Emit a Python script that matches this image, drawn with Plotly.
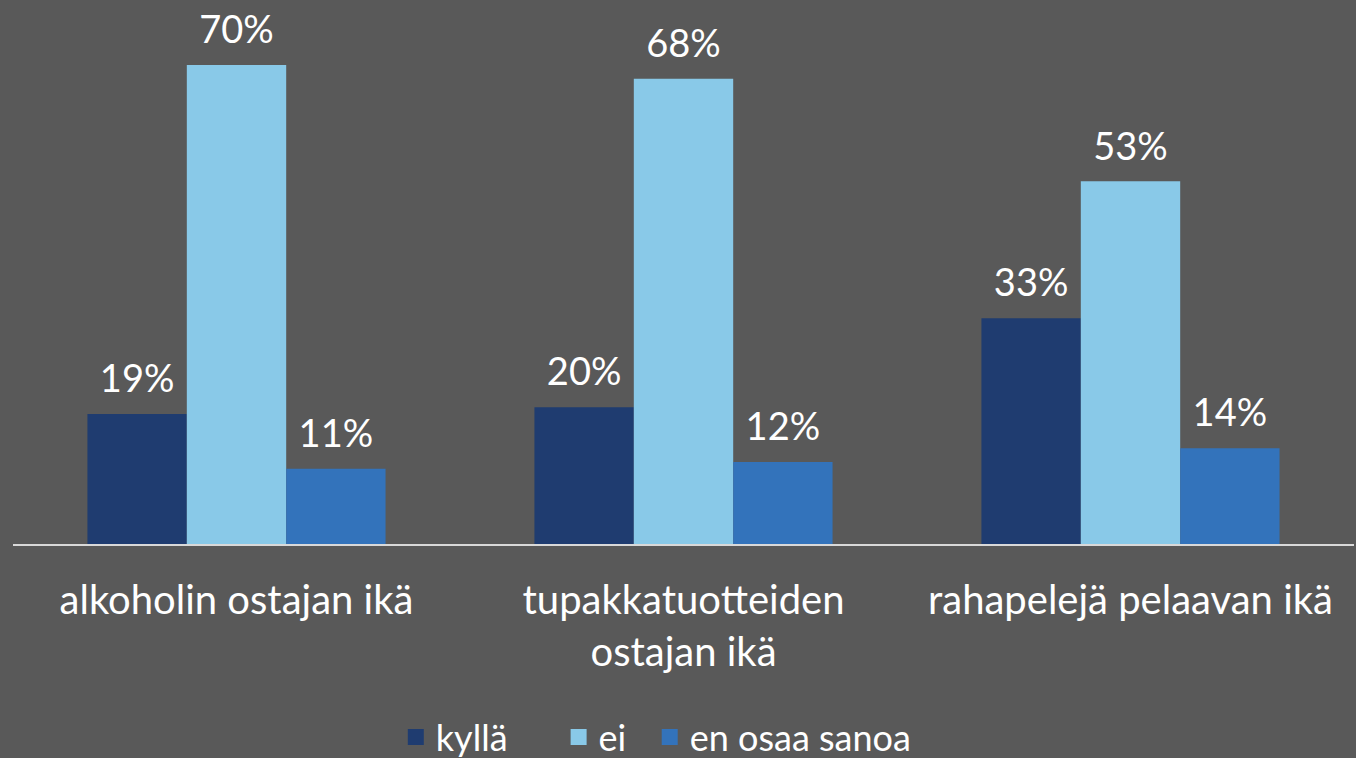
import plotly.graph_objects as go

categories = ["alkoholin ostajan ikä", "tupakkatuotteiden<br>ostajan ikä", "rahapelejä pelaavan ikä"]
series_names = ["kyllä", "ei", "en osaa sanoa"]
legend_labels = ["kyllä" + "\u00a0" * 5, "ei" + "\u00a0" * 2, "en osaa sanoa"]
kylla = [19, 20, 33]
ei = [70, 68, 53]
en_osaa = [11, 12, 14]
colors = ["#1F3C70", "#89C9E8", "#3373BB"]

FONT = "Lato"
GAP = 0.333
series = [kylla, ei, en_osaa]
fig = go.Figure()
for i, (name, vals, col) in enumerate(zip(series_names, series, colors)):
    fig.add_trace(go.Bar(
        x=categories, y=vals, name=name, marker_color=col, marker_line_width=0,
        offsetgroup=str(i), showlegend=False,
    ))
for i, vals in enumerate(series):
    fig.add_trace(go.Scatter(
        x=categories, y=vals, mode="markers+text", text=[f"{v}%" for v in vals],
        textposition="top center", offsetgroup=str(i), showlegend=False,
        marker=dict(size=18, color="rgba(0,0,0,0)"),
        cliponaxis=False, hoverinfo="skip",
        textfont=dict(color="white", size=38, family=FONT),
    ))
# legend entries
for i, (lab, col) in enumerate(zip(legend_labels, colors)):
    fig.add_trace(go.Scatter(
        x=[categories[0]], y=[None], mode="markers", name=lab, offsetgroup=str(i),
        marker=dict(symbol="square", size=22, color=col), showlegend=True,
    ))

fig.update_layout(
    width=1356, height=758,
    paper_bgcolor="#595959", plot_bgcolor="#595959",
    barmode="group", bargap=GAP, bargroupgap=0,
    scattermode="group", scattergap=GAP,
    margin=dict(l=13, r=2, t=0, b=214, autoexpand=False),
    font=dict(family=FONT, color="white", size=36),
    showlegend=True,
    legend=dict(orientation="h", x=0.484, xanchor="center", xref="container",
                y=(758 - 737) / 758, yanchor="middle", yref="container",
                font=dict(size=36, color="white"), itemwidth=30, itemsizing="trace",
                traceorder="normal", bgcolor="rgba(0,0,0,0)"),
    xaxis=dict(showline=True, linecolor="#D9D9D9", linewidth=2, ticks="",
               tickfont=dict(size=40, color="white"), ticklabelstandoff=20,
               showgrid=False, zeroline=False),
    yaxis=dict(range=[0, 79.5], visible=False, showgrid=False, zeroline=False),
)

fig.write_html("out.html", config={"displayModeBar": False},
               post_script="document.body.style.margin='0';document.body.style.overflow='hidden';")
